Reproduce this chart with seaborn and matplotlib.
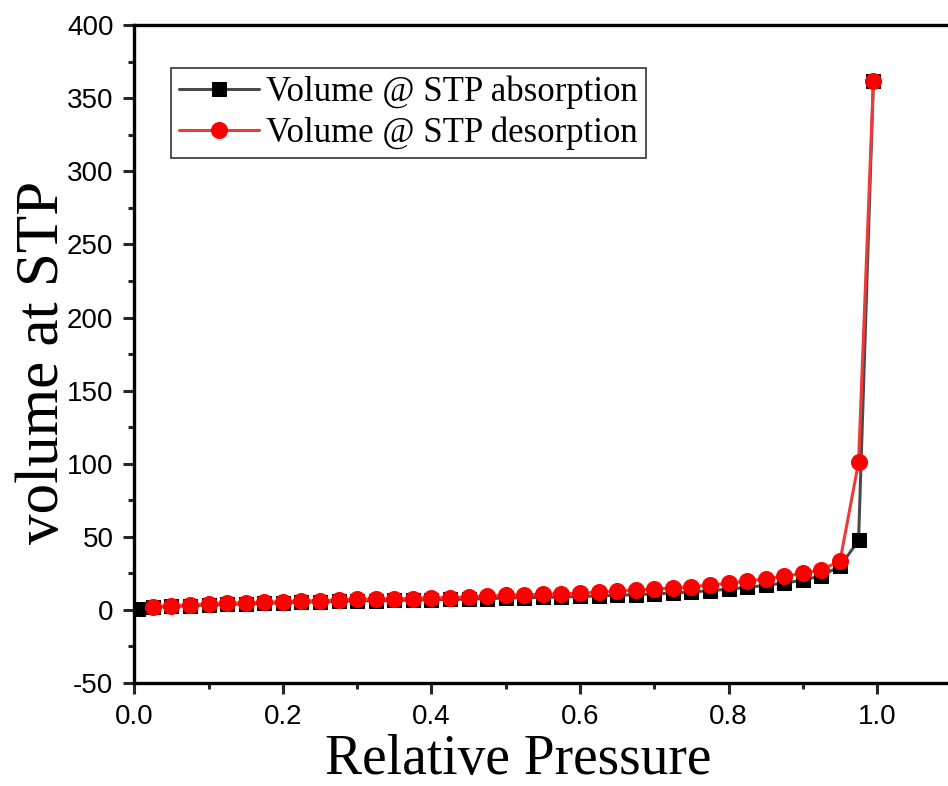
import matplotlib
matplotlib.use("Agg")
import matplotlib.pyplot as plt
from matplotlib.ticker import MultipleLocator
import seaborn as sns
import pandas as pd

# ---- data ----
ads_x = [0.005, 0.025, 0.05, 0.075, 0.1, 0.125, 0.15, 0.175, 0.2, 0.225, 0.25, 0.275, 0.3,
         0.325, 0.35, 0.375, 0.4, 0.425, 0.45, 0.475, 0.5, 0.525, 0.55, 0.575, 0.6, 0.625,
         0.65, 0.675, 0.7, 0.725, 0.75, 0.775, 0.8, 0.825, 0.85, 0.875, 0.9, 0.925, 0.95,
         0.975, 0.995]
ads_y = [0.8, 1.8, 2.4, 2.9, 3.4, 3.8, 4.2, 4.5, 4.9, 5.3, 5.5, 5.9, 6.2,
         6.4, 6.6, 6.8, 7.0, 7.2, 7.4, 7.8, 8.1, 8.3, 8.6, 8.8, 9.2, 9.6,
         10.0, 10.5, 11.0, 11.6, 12.3, 13.2, 14.2, 15.5, 16.8, 18.5, 20.2, 23.5, 29.8,
         47.5, 362.0]
des_x = [0.025, 0.05, 0.075, 0.1, 0.125, 0.15, 0.175, 0.2, 0.225, 0.25, 0.275, 0.3,
         0.325, 0.35, 0.375, 0.4, 0.425, 0.45, 0.475, 0.5, 0.525, 0.55, 0.575, 0.6, 0.625,
         0.65, 0.675, 0.7, 0.725, 0.75, 0.775, 0.8, 0.825, 0.85, 0.875, 0.9, 0.925, 0.95,
         0.975, 0.995]
des_y = [2.2, 2.9, 3.4, 4.0, 4.5, 4.9, 5.2, 5.6, 6.1, 6.3, 6.8, 7.2,
         7.4, 7.6, 7.8, 8.2, 8.5, 8.8, 9.5, 10.0, 10.3, 10.7, 11.0, 11.5, 12.1,
         12.8, 13.6, 14.3, 15.0, 15.9, 17.0, 18.2, 19.8, 21.2, 23.2, 25.0, 27.6, 33.3,
         101.0, 362.0]
labels = ["Volume @ STP absorption", "Volume @ STP desorption"]
x_label = "Relative Pressure"
y_label = "volume at STP"

sns.set_style("white")
plt.rcParams["font.family"] = ["Liberation Serif", "DejaVu Serif"]
plt.rcParams["axes.unicode_minus"] = False

fig = plt.figure(figsize=(9.48, 7.86), dpi=100)
ax = fig.add_axes([0.1416, 0.131, 0.862, 0.837])

ads = pd.DataFrame({"x": ads_x, "y": ads_y})
des = pd.DataFrame({"x": des_x, "y": des_y})

sns.lineplot(data=ads, x="x", y="y", ax=ax, sort=False, estimator=None,
             color="#4a4a4a", linewidth=2.2, marker="s", markersize=10.5,
             markerfacecolor="black", markeredgecolor="black", label=labels[0])
sns.lineplot(data=des, x="x", y="y", ax=ax, sort=False, estimator=None,
             color="#f03a3a", linewidth=2.2, marker="o", markersize=11.5,
             markerfacecolor="#ff0000", markeredgecolor="#ff0000", label=labels[1])

ax.set_xlim(0, 1.1)
ax.set_ylim(-50, 400)
ax.xaxis.set_major_locator(MultipleLocator(0.2))
ax.xaxis.set_minor_locator(MultipleLocator(0.1))
ax.yaxis.set_major_locator(MultipleLocator(50))
ax.yaxis.set_minor_locator(MultipleLocator(25))
ax.set_xticks([0.0, 0.2, 0.4, 0.6, 0.8, 1.0])
ax.set_xticklabels(["0.0", "0.2", "0.4", "0.6", "0.8", "1.0"])

for s in ax.spines.values():
    s.set_linewidth(2.4)
    s.set_color("black")
ax.spines["right"].set_visible(False)

ax.tick_params(which="major", direction="out", length=8.0, width=2.2,
               bottom=True, left=True, top=False, right=False, pad=7)
ax.tick_params(which="minor", direction="out", length=4.5, width=2.2,
               bottom=True, left=True, top=False, right=False)
tick_font = ["Liberation Sans", "DejaVu Sans"]
for lab in ax.get_xticklabels() + ax.get_yticklabels():
    lab.set_family(tick_font)
    lab.set_fontsize(20)
    lab.set_color("black")

ax.set_xlabel(x_label, fontsize=40, color="black")
ax.set_ylabel(y_label, fontsize=44, color="black")
ax.yaxis.set_label_coords(-0.077, 0.488)
ax.xaxis.set_label_coords(0.47, -0.077)

leg = ax.legend(loc="upper left", bbox_to_anchor=(0.045, 0.935), fontsize=25,
                frameon=True, fancybox=False, shadow=False, borderpad=0.22,
                handlelength=2.3, handletextpad=0.22, labelspacing=0.22,
                borderaxespad=0.0)
leg.get_frame().set_edgecolor("black")
leg.get_frame().set_linewidth(1.2)
for t in leg.get_texts():
    t.set_color("black")

fig.savefig("out.png", dpi=100)
